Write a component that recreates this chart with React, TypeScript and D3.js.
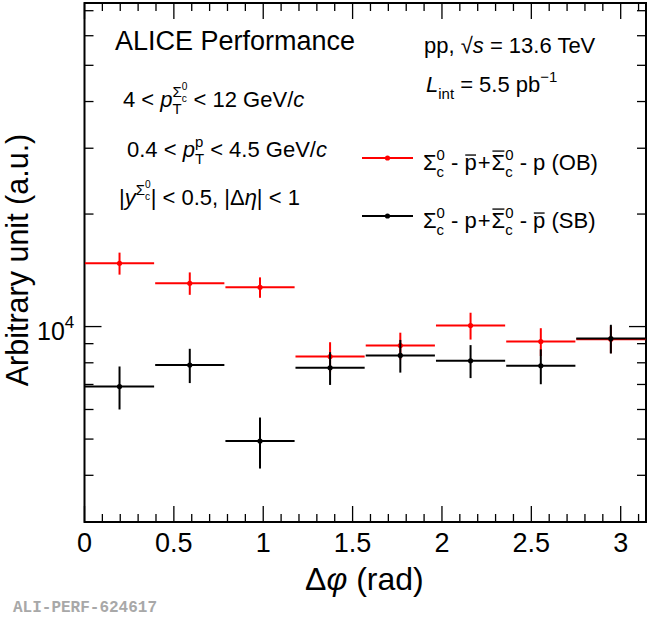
import React, { useEffect, useRef } from 'react';
import * as d3 from 'd3';

// Δφ bins (centres, half width = π/16)
const phiCenters = [0.196, 0.589, 0.982, 1.374, 1.767, 2.160, 2.553, 2.945];
const phiHalfWidth = 0.19635;

// opposite-baryon-number pairs (red)
const obValues = [14770, 13060, 12740, 8310, 8900, 10060, 9120, 9250];
const obErrors = [1000, 900, 800, 770, 730, 830, 780, 760];

// same-baryon-number pairs (black)
const sbValues = [6910, 7890, 4940, 7760, 8370, 8100, 7850, 9290];
const sbErrors = [910, 830, 770, 780, 840, 820, 840, 820];

const xTickLabels = [0, 0.5, 1, 1.5, 2, 2.5, 3];
const yMajorTicks = [10000];
const yMinorTicks = [3000, 4000, 5000, 6000, 7000, 8000, 9000, 20000, 30000, 40000, 50000, 60000, 70000];

const W = 650;
const H = 617;
const FONT = "'Liberation Sans', Arial, Helvetica, sans-serif";

type Seg = {
  t?: string;
  it?: boolean;
  bar?: number; // height of the bar above baseline, in em
  gap?: number;
  sup?: Seg[];
  sub?: Seg[];
};

// tiny TLatex-like renderer: lays out pieces left to right, measuring each one
function drawRich(
  g: d3.Selection<SVGGElement, unknown, null, undefined>,
  x: number,
  y: number,
  size: number,
  segs: Seg[],
  fill = '#000'
) {
  const walk = (list: Seg[], bx: number, by: number, sz: number): number => {
    let w = 0;
    list.forEach(seg => {
      w += seg.gap ?? 0;
      if (seg.t !== undefined) {
        const t = g.append('text')
          .attr('x', bx + w)
          .attr('y', by)
          .attr('font-size', sz)
          .attr('font-family', FONT)
          .attr('fill', fill)
          .style('font-style', seg.it ? 'italic' : 'normal')
          .style('white-space', 'pre')
          .text(seg.t);
        const tw = (t.node() as SVGTextElement).getComputedTextLength();
        if (seg.bar) {
          g.append('line')
            .attr('x1', bx + w + tw * 0.06)
            .attr('x2', bx + w + tw * 0.94)
            .attr('y1', by - sz * seg.bar)
            .attr('y2', by - sz * seg.bar)
            .attr('stroke', fill)
            .attr('stroke-width', Math.max(1, sz * 0.06));
        }
        w += tw;
      } else {
        const a = seg.sup ? walk(seg.sup, bx + w, by - sz * 0.45, sz * 0.68) : 0;
        const b = seg.sub ? walk(seg.sub, bx + w, by + sz * 0.33, sz * 0.68) : 0;
        w += Math.max(a, b);
      }
    });
    return w;
  };
  return walk(segs, x, y, size);
}

const sigmaC: Seg[] = [{ t: 'Σ' }, { sup: [{ t: '0' }], sub: [{ t: 'c' }] }];
const sigmaCbar: Seg[] = [{ t: 'Σ', bar: 0.86 }, { sup: [{ t: '0' }], sub: [{ t: 'c' }] }];

const App: React.FC = () => {
  const svgRef = useRef<SVGSVGElement>(null);

  useEffect(() => {
    if (!svgRef.current) return;
    document.body.style.margin = '0';
    d3.select(svgRef.current).selectAll('*').remove();
    const svg = d3.select(svgRef.current);
    const g = svg.append('g');

    const left = 84.5, right = 646, top = 3, bottom = 522;
    const x = d3.scaleLinear().domain([0, Math.PI]).range([left, right]);
    const y = d3.scaleLog().domain([3000, 73400]).range([bottom, top]);

    // frame
    g.append('rect')
      .attr('x', left).attr('y', top)
      .attr('width', right - left).attr('height', bottom - top)
      .attr('fill', 'none').attr('stroke', '#000').attr('stroke-width', 2);

    // x ticks (bottom + top mirror)
    const xMinor = d3.range(0, 3.15, 0.1);
    xMinor.forEach(v => {
      const major = Math.abs(v * 2 - Math.round(v * 2)) < 1e-6;
      const len = major ? 16 : 8;
      const px = x(v);
      g.append('line').attr('x1', px).attr('x2', px).attr('y1', bottom).attr('y2', bottom - len)
        .attr('stroke', '#000').attr('stroke-width', 1.3);
      g.append('line').attr('x1', px).attr('x2', px).attr('y1', top).attr('y2', top + len)
        .attr('stroke', '#000').attr('stroke-width', 1.3);
    });

    // y ticks (left + right mirror)
    const yTicks = [...yMajorTicks.map(v => ({ v, len: 17 })), ...yMinorTicks.map(v => ({ v, len: 9 }))];
    yTicks.forEach(({ v, len }) => {
      const py = y(v);
      g.append('line').attr('x1', left).attr('x2', left + len).attr('y1', py).attr('y2', py)
        .attr('stroke', '#000').attr('stroke-width', 1.3);
      g.append('line').attr('x1', right).attr('x2', right - len).attr('y1', py).attr('y2', py)
        .attr('stroke', '#000').attr('stroke-width', 1.3);
    });

    // x tick labels
    g.selectAll('.xlab')
      .data(xTickLabels)
      .enter().append('text')
      .attr('x', d => x(d))
      .attr('y', 552)
      .attr('text-anchor', 'middle')
      .attr('font-family', FONT)
      .attr('font-size', 27)
      .text(d => String(d));

    // y tick label 10^4
    drawRich(g, 37, y(10000) + 13, 25, [{ t: '10' }, { sup: [{ t: '4' }] }]);

    // axis titles
    drawRich(g, 305, 590, 32, [{ t: 'Δ' }, { t: 'φ', it: true }, { t: ' (rad)' }]);
    g.append('text')
      .attr('transform', `translate(28,260) rotate(-90)`)
      .attr('text-anchor', 'middle')
      .attr('font-family', FONT)
      .attr('font-size', 30.5)
      .text('Arbitrary unit (a.u.)');

    // data series
    const series = [
      { values: obValues, errors: obErrors, color: '#ff0000' },
      { values: sbValues, errors: sbErrors, color: '#000000' },
    ];
    series.forEach(s => {
      const sg = g.append('g');
      phiCenters.forEach((c, i) => {
        const v = s.values[i];
        const e = s.errors[i];
        sg.append('line')
          .attr('x1', x(c - phiHalfWidth) + 0.5).attr('x2', x(c + phiHalfWidth) - 0.5)
          .attr('y1', y(v)).attr('y2', y(v))
          .attr('stroke', s.color).attr('stroke-width', 2);
        sg.append('line')
          .attr('x1', x(c)).attr('x2', x(c))
          .attr('y1', y(v - e)).attr('y2', y(v + e))
          .attr('stroke', s.color).attr('stroke-width', 2);
        sg.append('circle')
          .attr('cx', x(c)).attr('cy', y(v)).attr('r', 2.6)
          .attr('fill', s.color);
      });
    });

    // labels
    const tg = g.append('g');
    drawRich(tg, 115, 50, 27, [{ t: 'ALICE Performance' }]);
    drawRich(tg, 123, 107, 22, [
      { t: '4 < ' }, { t: 'p', it: true },
      { sup: [{ t: 'Σ' }, { sup: [{ t: '0' }], sub: [{ t: 'c' }] }], sub: [{ t: 'T' }] },
      { t: ' < 12 GeV/' }, { t: 'c', it: true },
    ]);
    drawRich(tg, 127, 157, 22, [
      { t: '0.4 < ' }, { t: 'p', it: true },
      { sup: [{ t: 'p' }], sub: [{ t: 'T' }] },
      { t: ' < 4.5 GeV/' }, { t: 'c', it: true },
    ]);
    drawRich(tg, 119, 205, 22, [
      { t: '|' }, { t: 'y', it: true },
      { sup: [{ t: 'Σ' }, { sup: [{ t: '0' }], sub: [{ t: 'c' }] }] },
      { t: '| < 0.5, |Δ' }, { t: 'η', it: true }, { t: '| < 1' },
    ]);
    drawRich(tg, 424, 53, 22, [
      { t: 'pp, √' }, { t: 's', it: true }, { t: ' = 13.6 TeV' },
    ]);
    drawRich(tg, 426, 92, 22, [
      { t: 'L', it: true }, { sub: [{ t: 'int' }] }, { t: ' = 5.5 pb' }, { sup: [{ t: '−1' }] },
    ]);

    // legend
    const legend = [
      {
        color: '#ff0000', ly: 158, ty: 170,
        text: [...sigmaC, { t: ' - ' }, { t: 'p', bar: 0.68 }, { t: '+', gap: 1 }, { gap: 1, t: '' },
          ...sigmaCbar, { t: ' - p (OB)' }] as Seg[],
      },
      {
        color: '#000000', ly: 216, ty: 228,
        text: [...sigmaC, { t: ' - p' }, { t: '+', gap: 1 }, { gap: 1, t: '' },
          ...sigmaCbar, { t: ' - ' }, { t: 'p', bar: 0.68 }, { t: ' (SB)' }] as Seg[],
      },
    ];
    legend.forEach(l => {
      tg.append('line').attr('x1', 362).attr('x2', 413).attr('y1', l.ly).attr('y2', l.ly)
        .attr('stroke', l.color).attr('stroke-width', 2);
      tg.append('circle').attr('cx', 387.5).attr('cy', l.ly).attr('r', 2.6).attr('fill', l.color);
      drawRich(tg, 423, l.ty, 22, l.text);
    });

    // figure id
    tg.append('text')
      .attr('x', 13).attr('y', 612)
      .attr('font-family', "'Liberation Mono', 'DejaVu Sans Mono', monospace")
      .attr('font-weight', 'bold')
      .attr('font-size', 16)
      .attr('fill', '#a8a8a8')
      .text('ALI-PERF-624617');
  }, []);

  return (
    <svg
      ref={svgRef}
      width={W}
      height={H}
      style={{ position: 'absolute', left: 0, top: 0, background: '#fff' }}
    />
  );
};

export default App;
